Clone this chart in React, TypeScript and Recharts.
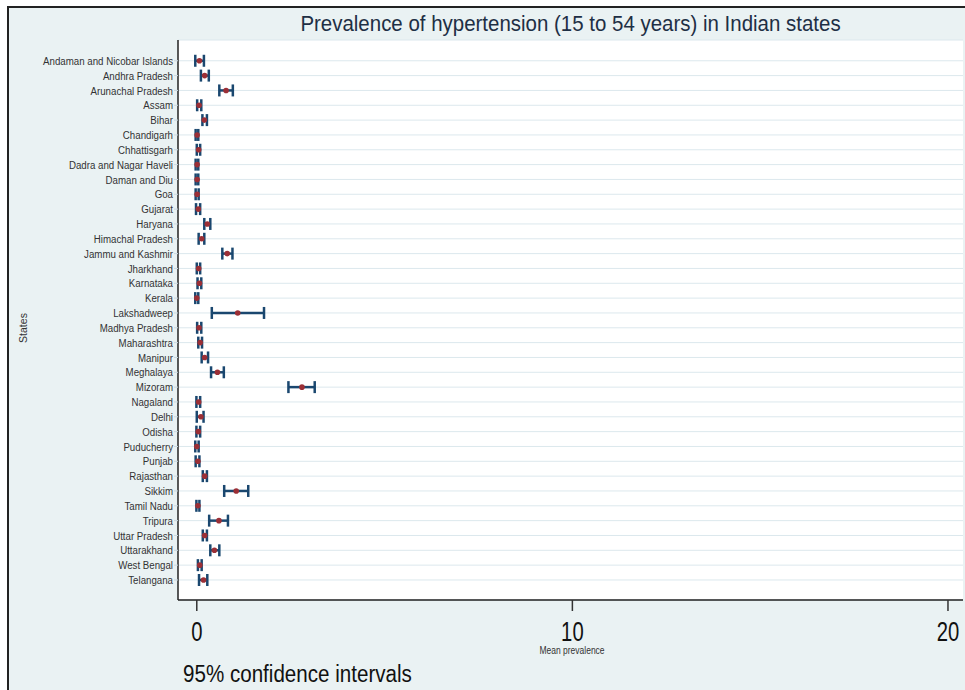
import { ScatterChart, Scatter, XAxis, YAxis, CartesianGrid, ErrorBar } from 'recharts';

const states = [
  'Andaman and Nicobar Islands', 'Andhra Pradesh', 'Arunachal Pradesh', 'Assam', 'Bihar', 'Chandigarh',
  'Chhattisgarh', 'Dadra and Nagar Haveli', 'Daman and Diu', 'Goa', 'Gujarat', 'Haryana',
  'Himachal Pradesh', 'Jammu and Kashmir', 'Jharkhand', 'Karnataka', 'Kerala', 'Lakshadweep',
  'Madhya Pradesh', 'Maharashtra', 'Manipur', 'Meghalaya', 'Mizoram', 'Nagaland',
  'Delhi', 'Odisha', 'Puducherry', 'Punjab', 'Rajasthan', 'Sikkim',
  'Tamil Nadu', 'Tripura', 'Uttar Pradesh', 'Uttarakhand', 'West Bengal', 'Telangana',
];

// mean prevalence and 95% CI bounds
const means = [
  0.07, 0.21, 0.78, 0.06, 0.2, 0.01, 0.05, 0.01, 0.01, 0.01, 0.04, 0.28,
  0.13, 0.81, 0.05, 0.07, 0.0, 1.09, 0.06, 0.09, 0.21, 0.55, 2.8, 0.05,
  0.11, 0.04, 0.0, 0.03, 0.21, 1.05, 0.03, 0.59, 0.21, 0.47, 0.08, 0.18,
];
const lows = [
  -0.04, 0.11, 0.6, 0.01, 0.15, -0.03, 0.0, -0.03, -0.03, -0.03, -0.02, 0.2,
  0.05, 0.68, 0.0, 0.02, -0.04, 0.4, 0.01, 0.04, 0.13, 0.38, 2.44, -0.01,
  0.0, -0.01, -0.04, -0.03, 0.16, 0.73, -0.01, 0.33, 0.16, 0.36, 0.03, 0.06,
];
const highs = [
  0.19, 0.32, 0.96, 0.12, 0.27, 0.04, 0.09, 0.04, 0.04, 0.05, 0.09, 0.36,
  0.2, 0.95, 0.09, 0.12, 0.04, 1.79, 0.12, 0.14, 0.3, 0.72, 3.14, 0.09,
  0.18, 0.09, 0.05, 0.07, 0.27, 1.37, 0.07, 0.83, 0.27, 0.6, 0.13, 0.28,
];
const xTicks = [0, 10, 20];

const data = states.map((s, i) => ({
  state: s,
  idx: i,
  mean: means[i],
  err: [means[i] - lows[i], highs[i] - means[i]],
}));

const FONT = '"Liberation Sans", Arial, sans-serif';

// no narrow font available, so squeeze the regular one sideways
function StateTick({ x, y, payload }: any) {
  return (
    <g transform={`translate(${x},${y})`}>
      <text transform="scale(0.845,1)" textAnchor="end" dy="0.355em" fill="#333" fontSize={11.5} fontFamily={FONT}>
        {states[payload.value]}
      </text>
    </g>
  );
}

function ValueTick({ x, y, payload }: any) {
  return (
    <g transform={`translate(${x},${y})`}>
      <text transform="scale(0.75,1)" textAnchor="middle" dy="0.71em" fill="#111" fontSize={27} fontFamily={FONT}>
        {payload.value}
      </text>
    </g>
  );
}

export default function App() {
  return (
    <div style={{ position: 'absolute', left: 0, top: 0, width: 965, height: 690, background: '#fff', overflow: 'hidden', fontFamily: FONT }}>
      <div style={{ position: 'absolute', left: 7, top: 6, right: 0, bottom: 0, background: '#eaf2f3', borderLeft: '2px solid #222', borderTop: '2px solid #222' }} />
      <div style={{ position: 'absolute', left: 178, width: 785, top: 11, textAlign: 'center', fontSize: 22, color: '#1e2f45', lineHeight: '26px', transform: 'scaleX(0.93)' }}>
        Prevalence of hypertension (15 to 54 years) in Indian states
      </div>
      <div style={{ position: 'absolute', left: 0, top: 0 }}>
        <ScatterChart width={965} height={690} margin={{ top: 40, right: 2, bottom: 50, left: 0 }}>
          <CartesianGrid vertical={false} stroke="#dce8ed" fill="#ffffff" />
          <XAxis
            type="number"
            dataKey="mean"
            domain={[-0.5, 20.4]}
            ticks={xTicks}
            height={40}
            tickSize={11}
            tickMargin={11}
            axisLine={{ stroke: '#222', strokeWidth: 1.5 }}
            tickLine={{ stroke: '#333', strokeWidth: 1.5 }}
            tick={<ValueTick />}
          />
          <YAxis
            type="number"
            dataKey="idx"
            reversed
            domain={[-1.4, 36.35]}
            ticks={states.map((_, i) => i)}
            interval={0}
            width={178}
            tickSize={4}
            tickMargin={1}
            axisLine={{ stroke: '#222', strokeWidth: 1.5 }}
            tickLine={{ stroke: '#c9d7df' }}
            tick={<StateTick />}
          />
          <Scatter
            data={data}
            isAnimationActive={false}
            shape={(p: any) => <circle cx={p.cx} cy={p.cy} r={2.8} fill="#9b2f36" />}
          >
            <ErrorBar dataKey="err" direction="x" width={6} stroke="#1a476f" strokeWidth={2.5} />
          </Scatter>
        </ScatterChart>
      </div>
      <div style={{ position: 'absolute', left: 8, top: 328, transform: 'translate(0, -50%) rotate(-90deg)', fontSize: 10.5, color: '#333' }}>
        States
      </div>
      <div style={{ position: 'absolute', left: 472, width: 200, top: 645, textAlign: 'center', fontSize: 10, lineHeight: '12px', color: '#333', transform: 'scaleX(0.85)' }}>
        Mean prevalence
      </div>
      <div style={{ position: 'absolute', left: 183, top: 660, fontSize: 23, color: '#111', lineHeight: '28px', transform: 'scaleX(0.895)', transformOrigin: 'left center' }}>
        95% confidence intervals
      </div>
    </div>
  );
}
